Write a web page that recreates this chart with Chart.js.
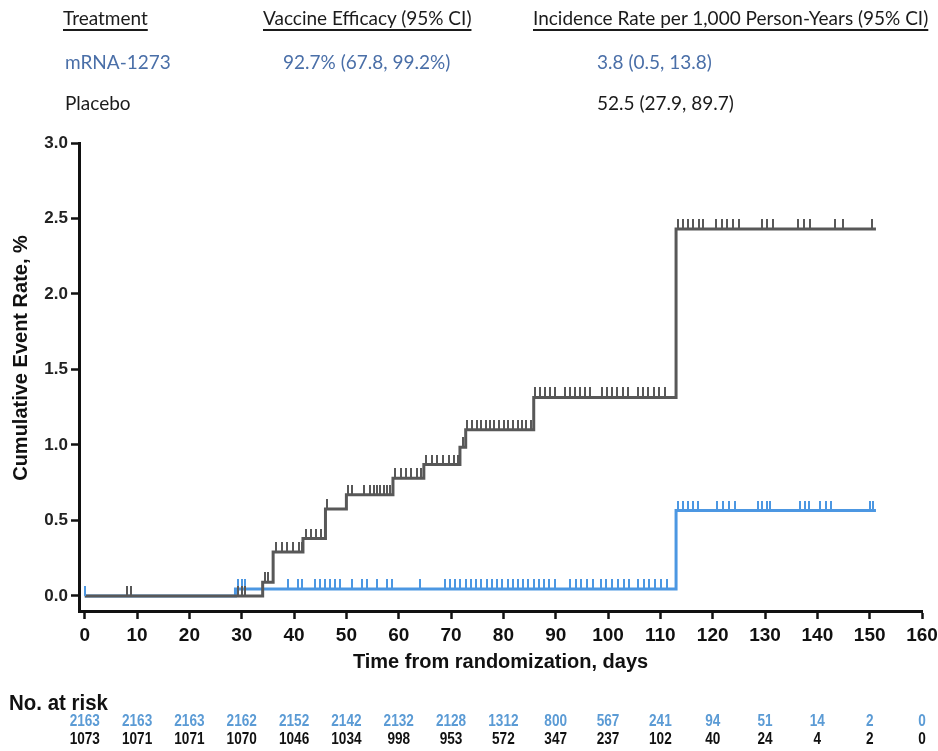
<!DOCTYPE html>
<html><head><meta charset="utf-8">
<script src="https://cdn.jsdelivr.net/npm/chart.js@4.4.1/dist/chart.umd.min.js"></script>
<style>
html,body{margin:0;padding:0;background:#fff;width:938px;height:751px;overflow:hidden}
#wrap{position:relative;width:938px;height:751px}
#c{position:absolute;left:0;top:0}
.h{position:absolute;font-family:Lato,'Open Sans',sans-serif;font-size:19px;white-space:nowrap;line-height:20px;color:#1b1b1b}
.u{text-decoration:underline;text-decoration-thickness:1.5px;text-underline-offset:4px}
.blue{color:#4a6fa8}
</style></head><body>
<div id="wrap">
<canvas id="c" width="938" height="751"></canvas>
<div class="h u" style="left:63px;top:8px">Treatment</div>
<div class="h u" style="left:263px;top:8px">Vaccine Efficacy (95% CI)</div>
<div class="h u" style="left:533px;top:8px">Incidence Rate per 1,000 Person-Years (95% CI)</div>
<div class="h blue" style="left:65px;top:52px">mRNA-1273</div>
<div class="h blue" style="left:283px;top:52px">92.7% (67.8, 99.2%)</div>
<div class="h blue" style="left:597px;top:52px">3.8 (0.5, 13.8)</div>
<div class="h" style="left:65px;top:93px">Placebo</div>
<div class="h" style="left:597px;top:93px">52.5 (27.9, 89.7)</div>
</div>
<script>
// ---- data ----
const placeboTimes = [0, 34, 36, 41.7, 46, 50, 58.9, 64.8, 71.7, 72.8, 85.8, 113, 151.2];
const placeboRates = [0, 0.09, 0.29, 0.38, 0.575, 0.67, 0.78, 0.87, 0.985, 1.10, 1.315, 2.43, 2.43];
const mrnaTimes = [0, 28.8, 113, 151.2];
const mrnaRates = [0, 0.046, 0.565, 0.565];
const placeboCensor = [8.0, 8.9, 29.3, 30.0, 30.7, 34.4, 35.0, 36.5, 37.6, 38.7, 39.8, 40.9, 41.5,
  42.2, 43.3, 44.2, 45.1, 46.2, 50.4, 51.0, 53.3, 54.6, 55.2, 55.9, 56.5, 57.1, 57.7, 58.3,
  59.3, 60.4, 61.4, 62.4, 63.4, 64.3, 65.2, 66.3, 67.4, 68.5, 69.6, 70.6, 71.3, 72.2,
  73.1, 74.0, 74.9, 75.7, 76.6, 77.5, 78.3, 79.2, 80.1, 80.9, 81.8, 82.7, 83.5, 84.4, 85.3,
  86.0, 87.0, 87.9, 88.9, 89.8, 91.8, 92.8, 93.7, 94.6, 95.6, 96.5, 98.8, 99.8, 100.8, 101.8,
  102.8, 103.8, 105.7, 106.7, 107.7, 108.8, 109.8, 110.9, 113.3, 114.3, 115.3, 116.3, 117.3,
  118.1, 120.6, 121.7, 122.8, 123.9, 125.0, 129.4, 130.4, 131.5, 136.3, 137.4, 138.6, 143.4,
  144.9, 150.5];
const mrnaCensor = [0, 29.3, 30.0, 30.7, 38.8, 40.8, 41.6, 44.0, 44.9, 45.9, 46.8, 47.8, 48.7,
  51.0, 52.9, 53.9, 55.8, 57.7, 58.7, 64.0, 68.8, 69.8, 70.8, 71.8, 72.8, 73.8, 74.8, 75.8,
  76.8, 77.8, 78.8, 79.8, 80.8, 81.8, 82.8, 83.8, 84.8, 85.8, 86.8, 87.8, 88.8, 89.8, 92.7,
  93.8, 94.9, 96.0, 97.1, 98.6, 99.7, 100.8, 101.9, 103.0, 104.1, 105.7, 106.8, 107.9, 109.0,
  110.1, 111.2, 113.4, 114.4, 115.3, 116.2, 117.1, 120.8, 121.9, 123.1, 124.2, 128.7, 129.5,
  130.3, 131.0, 136.7, 137.6, 138.5, 140.5, 141.6, 142.7, 150.0, 150.6];
const xTickLabels = [0, 10, 20, 30, 40, 50, 60, 70, 80, 90, 100, 110, 120, 130, 140, 150, 160];
const yTickLabels = [0, 0.5, 1.0, 1.5, 2.0, 2.5, 3.0];
const riskDays = [0, 10, 20, 30, 40, 50, 60, 70, 80, 90, 100, 110, 120, 130, 140, 150, 160];
const mrnaRisk = [2163, 2163, 2163, 2162, 2152, 2142, 2132, 2128, 1312, 800, 567, 241, 94, 51, 14, 2, 0];
const placeboRisk = [1073, 1071, 1071, 1070, 1046, 1034, 998, 953, 572, 347, 237, 102, 40, 24, 4, 2, 0];
const yTitle = 'Cumulative Event Rate, %';

const GRAY = '#585858', BLUE = '#4c97e2', RISKBLUE = '#5b9bd5';

function pts(t, r) { return t.map((x, i) => ({x: x, y: r[i]})); }
function levelAt(t, r, x) { let v = r[0]; for (let i = 0; i < t.length; i++) { if (t[i] <= x) v = r[i]; } return v; }
function censorPts(c, t, r) { return c.map(x => ({x: x, y: levelAt(t, r, x)})); }
function tickImg(color) {
  const cv = document.createElement('canvas'); cv.width = 2; cv.height = 20;
  const g = cv.getContext('2d'); g.fillStyle = color; g.fillRect(0, 0, 2, 10); return cv;
}
const SANS = "'Liberation Sans', Arial, sans-serif";

const textPlugin = {
  id: 'risk',
  afterDraw(chart) {
    const ctx = chart.ctx, xs = chart.scales.x;
    ctx.save();
    // y axis title, rotated
    ctx.save();
    ctx.translate(21, 358); ctx.rotate(-Math.PI / 2);
    ctx.font = 'bold 20px ' + SANS; ctx.fillStyle = '#111'; ctx.textAlign = 'center'; ctx.textBaseline = 'middle';
    ctx.fillText(yTitle, 0, 0);
    ctx.restore();
    // risk table
    ctx.font = 'bold 22px ' + SANS; ctx.fillStyle = '#111'; ctx.textAlign = 'left'; ctx.textBaseline = 'middle';
    ctx.save(); ctx.translate(9, 704); ctx.scale(0.93, 1); ctx.fillText('No. at risk', 0, 0); ctx.restore();
    ctx.font = 'bold 17px ' + SANS; ctx.textAlign = 'center';
    riskDays.forEach((d, i) => {
      const x = xs.getPixelForValue(d);
      ctx.save(); ctx.translate(x, 721); ctx.scale(0.8, 1);
      ctx.fillStyle = RISKBLUE; ctx.fillText(String(mrnaRisk[i]), 0, 0); ctx.restore();
      ctx.save(); ctx.translate(x, 739); ctx.scale(0.8, 1);
      ctx.fillStyle = '#111'; ctx.fillText(String(placeboRisk[i]), 0, 0); ctx.restore();
    });
    ctx.restore();
  }
};

new Chart(document.getElementById('c'), {
  type: 'scatter',
  data: {
    datasets: [
      {label: 'Placebo censored', data: censorPts(placeboCensor, placeboTimes, placeboRates), pointStyle: tickImg(GRAY), pointRadius: 5, order: 0},
      {label: 'mRNA-1273 censored', data: censorPts(mrnaCensor, mrnaTimes, mrnaRates), pointStyle: tickImg(BLUE), pointRadius: 5, order: 0},
      {label: 'Placebo', data: pts(placeboTimes, placeboRates), showLine: true, stepped: true, borderColor: GRAY, borderWidth: 3, pointRadius: 0, borderCapStyle: 'butt', borderJoinStyle: 'miter', order: 1},
      {label: 'mRNA-1273', data: pts(mrnaTimes, mrnaRates), showLine: true, stepped: true, borderColor: BLUE, borderWidth: 3, pointRadius: 0, borderCapStyle: 'butt', borderJoinStyle: 'miter', order: 2}
    ]
  },
  options: {
    responsive: false, animation: false, devicePixelRatio: 1,
    layout: {padding: {top: 143, left: 0, right: 16, bottom: 70}},
    plugins: {legend: {display: false}, tooltip: {enabled: false}},
    scales: {
      x: {
        type: 'linear', min: -1.1, max: 160,
        afterBuildTicks: s => { s.ticks = xTickLabels.map(v => ({value: v})); },
        afterFit: s => { s.height = 70; s.paddingLeft = 0; s.paddingRight = 0; },
        border: {display: true, color: '#111', width: 3},
        grid: {display: true, drawOnChartArea: false, drawTicks: true, tickLength: 8, tickWidth: 2.5, tickColor: '#111', color: '#111'},
        ticks: {autoSkip: false, maxRotation: 0, padding: 5, color: '#111', font: {family: SANS, weight: 'bold', size: 19}},
        title: {display: true, text: 'Time from randomization, days', color: '#111', font: {family: SANS, weight: 'bold', size: 20}, padding: {top: 0, bottom: 7}}
      },
      y: {
        type: 'linear', min: -0.1, max: 3.0,
        afterBuildTicks: s => { s.ticks = yTickLabels.map(v => ({value: v})); },
        afterFit: s => { s.width = 79; },
        border: {display: true, color: '#111', width: 3},
        grid: {display: true, drawOnChartArea: false, drawTicks: true, tickLength: 8, tickWidth: 2.5, tickColor: '#111', color: '#111'},
        ticks: {padding: 3, color: '#222', font: {family: SANS, weight: 'bold', size: 17}, callback: v => Number(v).toFixed(1)},
        title: {display: false}
      }
    }
  },
  plugins: [textPlugin]
});
</script>
</body></html>
